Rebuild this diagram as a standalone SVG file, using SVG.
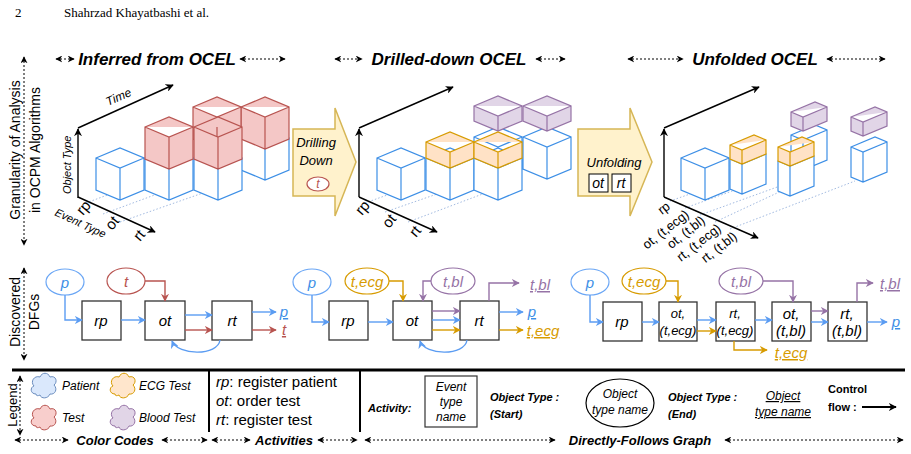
<svg xmlns="http://www.w3.org/2000/svg" width="911" height="454" viewBox="0 0 911 454">
<style>
text{font-family:"Liberation Sans",Arial,sans-serif;fill:#000}
.hd{font-family:"Liberation Serif",serif;font-size:13px}
.ti{font-size:17px;font-weight:bold;font-style:italic}
.it{font-style:italic}
.bi{font-weight:bold;font-style:italic}
.dash{stroke:#000;stroke-width:1;stroke-dasharray:2 2;fill:none;marker-start:url(#oa);marker-end:url(#oa)}
.ax{stroke:#000;stroke-width:1.4;fill:none;marker-end:url(#mk)}
.bl{fill:#fff;stroke:#3d8fe6;stroke-width:1.2}
.rd{fill:#f4c7c6;stroke:#b85450;stroke-width:1.2}
.or{fill:#ffe2c6;stroke:#d79b00;stroke-width:1.2}
.pu{fill:#e1d5e7;stroke:#9673a6;stroke-width:1.2}
.dot{stroke:#8aa8d8;stroke-width:0.8;stroke-dasharray:1.5 2;fill:none}
.box{fill:#fff;stroke:#333;stroke-width:1.3}
.eb{fill:#fff;stroke:#6aa6f5;stroke-width:1.2}
.er{fill:#fff;stroke:#b85450;stroke-width:1.2}
.eo{fill:#fff;stroke:#d79b00;stroke-width:1.2}
.ep{fill:#fff;stroke:#9673a6;stroke-width:1.2}
.cb{stroke:#5b9cf2;stroke-width:1.4;fill:none;marker-end:url(#mb)}
.cr{stroke:#b85450;stroke-width:1.4;fill:none;marker-end:url(#mr)}
.co{stroke:#d79b00;stroke-width:1.4;fill:none;marker-end:url(#mo)}
.cp{stroke:#9673a6;stroke-width:1.4;fill:none;marker-end:url(#mp)}
.n{font-size:15px;font-style:italic;text-anchor:middle}
.n2{font-size:13px;font-style:italic;text-anchor:middle}
.tb{fill:#3d8fe6}.tr{fill:#b85450}.to{fill:#d79b00}.tp{fill:#9673a6}
</style>
<defs>
<marker id="mk" viewBox="0 0 10 10" refX="9" refY="5" markerWidth="8" markerHeight="8" markerUnits="userSpaceOnUse" orient="auto"><path d="M0 0L10 5L0 10L3 5z" fill="#000"/></marker>
<marker id="mb" viewBox="0 0 10 10" refX="9" refY="5" markerWidth="8" markerHeight="8" markerUnits="userSpaceOnUse" orient="auto"><path d="M0 0L10 5L0 10L3 5z" fill="#5b9cf2"/></marker>
<marker id="mr" viewBox="0 0 10 10" refX="9" refY="5" markerWidth="8" markerHeight="8" markerUnits="userSpaceOnUse" orient="auto"><path d="M0 0L10 5L0 10L3 5z" fill="#b85450"/></marker>
<marker id="mo" viewBox="0 0 10 10" refX="9" refY="5" markerWidth="8" markerHeight="8" markerUnits="userSpaceOnUse" orient="auto"><path d="M0 0L10 5L0 10L3 5z" fill="#d79b00"/></marker>
<marker id="mp" viewBox="0 0 10 10" refX="9" refY="5" markerWidth="8" markerHeight="8" markerUnits="userSpaceOnUse" orient="auto"><path d="M0 0L10 5L0 10L3 5z" fill="#9673a6"/></marker>
<marker id="oa" viewBox="0 0 10 10" refX="9" refY="5" markerWidth="7" markerHeight="7" markerUnits="userSpaceOnUse" orient="auto-start-reverse"><path d="M0 0L10 5L0 10L3 5z" fill="#000"/></marker>
<path id="cube" d="M-24-10L0-20L24-10V22L0 32L-24 22Z M-24-10L0 0L24-10 M0 0V32"/>
<path id="slab" d="M-24-10L0-20L24-10V6L0 16L-24 6Z M-24-10L0 0L24-10 M0 0V16"/>
<path id="slabp" d="M-24-10L0-20L24-10V5L0 15L-24 5Z M-24-10L0 0L24-10 M0 0V15"/>
<path id="nc" d="M-12-5L12-15L24-10V20L0 30L-12 25Z M-12-5L0 0L24-10 M0 0V30"/>
<path id="ns" d="M-12-5L12-15L24-10V4L0 14L-12 9Z M-12-5L0 0L24-10 M0 0V14"/>
<path id="cloud" d="M-8 8C-14 8-14 1-10 0C-14-4-10-11-4-9C-2-14 4-14 6-9C12-11 14-4 10-1C14 3 11 9 6 8C4 13-3 13-4 9C-6 10-8 10-8 8Z"/>
</defs>

<text class="hd" x="15" y="17">2</text>
<text class="hd" x="64" y="17">Shahrzad Khayatbashi et al.</text>

<g id="titles">
<line class="dash" x1="56" y1="59" x2="74" y2="59"/><line class="dash" x1="240" y1="59" x2="285" y2="59"/>
<text class="ti" x="157" y="65" text-anchor="middle">Inferred from OCEL</text>
<line class="dash" x1="335" y1="59" x2="362" y2="59"/><line class="dash" x1="536" y1="59" x2="565" y2="59"/>
<text class="ti" x="449" y="65" text-anchor="middle">Drilled-down OCEL</text>
<line class="dash" x1="628" y1="59" x2="683" y2="59"/><line class="dash" x1="827" y1="59" x2="885" y2="59"/>
<text class="ti" x="755" y="65" text-anchor="middle">Unfolded OCEL</text>
<line class="dash" x1="24" y1="57" x2="24" y2="245"/>
<text font-size="14" transform="translate(20 150) rotate(-90)" text-anchor="middle">Granularity of Analysis</text>
<text font-size="14" transform="translate(40 150) rotate(-90)" text-anchor="middle">in OCPM Algorithms</text>
<line class="dash" x1="24" y1="268" x2="24" y2="360"/>
<text font-size="14" transform="translate(20 312) rotate(-90)" text-anchor="middle">Discovered</text>
<text font-size="14" transform="translate(39 312) rotate(-90)" text-anchor="middle">DFGs</text>
</g>

<g id="panel1">
<line class="dot" x1="86" y1="203" x2="110" y2="194"/>
<line class="dot" x1="103" y1="214" x2="160" y2="193"/>
<line class="dot" x1="120" y1="222" x2="240" y2="180"/>
<use href="#cube" class="bl" x="265" y="148"/>
<use href="#cube" class="rd" x="265" y="117"/>
<use href="#cube" class="rd" x="217" y="117"/>
<use href="#cube" class="bl" x="120" y="168"/>
<use href="#cube" class="bl" x="169" y="168"/>
<use href="#cube" class="rd" x="169" y="137"/>
<use href="#cube" class="bl" x="218" y="168"/>
<use href="#cube" class="rd" x="218" y="137"/>
<path class="ax" d="M78 198V129"/>
<path class="ax" d="M78 128L173 85"/>
<path class="ax" d="M78 197L155 232"/>
<text font-size="12" class="it" transform="translate(108 106) rotate(-24)">Time</text>
<text font-size="11" class="it" transform="translate(71 194) rotate(-90)">Object Type</text>
<text font-size="11" class="it" transform="translate(54 215) rotate(25)">Event Type</text>
<text font-size="15" transform="translate(83 216) rotate(-50)">rp</text>
<text font-size="15" transform="translate(112 231) rotate(-50)">ot</text>
<text font-size="15" transform="translate(140 242) rotate(-50)">rt</text>
</g>

<g id="drill">
<path d="M293 129H335V108L356 162L335 216V196H293Z" fill="#fff2cc" stroke="#d6b656" stroke-width="1.5"/>
<text class="it" font-size="13" x="316" y="147" text-anchor="middle">Drilling</text>
<text class="it" font-size="13" x="316" y="165" text-anchor="middle">Down</text>
<ellipse cx="318" cy="184" rx="11" ry="7" class="er"/>
<text class="it tr" font-size="12" x="318" y="188" text-anchor="middle">t</text>
</g>

<g id="panel2">
<line class="dot" x1="365" y1="203" x2="390" y2="194"/>
<line class="dot" x1="385" y1="212" x2="440" y2="193"/>
<line class="dot" x1="408" y1="222" x2="520" y2="180"/>
<use href="#cube" class="bl" x="547" y="147"/>
<use href="#cube" class="bl" x="498" y="147"/>
<use href="#slabp" class="pu" x="498" y="116"/>
<use href="#slabp" class="pu" x="547" y="116"/>
<use href="#cube" class="bl" x="401" y="168"/>
<use href="#cube" class="bl" x="450" y="168"/>
<use href="#slab" class="or" x="450" y="152"/>
<use href="#cube" class="bl" x="498" y="168"/>
<use href="#slab" class="or" x="498" y="152"/>
<path class="ax" d="M359 197V129"/>
<path class="ax" d="M359 128L453 87"/>
<path class="ax" d="M359 197L437 232"/>
<text font-size="15" transform="translate(362 216) rotate(-50)">rp</text>
<text font-size="15" transform="translate(389 229) rotate(-50)">ot</text>
<text font-size="15" transform="translate(416 238) rotate(-50)">rt</text>
</g>

<g id="unfold">
<path d="M578 129H630V108L652 162L630 216V196H578Z" fill="#fff2cc" stroke="#d6b656" stroke-width="1.5"/>
<text class="it" font-size="13" x="614" y="167" text-anchor="middle">Unfolding</text>
<rect x="589" y="174" width="19" height="18" fill="#fff" stroke="#000"/>
<text class="it" font-size="14" x="598" y="188" text-anchor="middle">ot</text>
<rect x="612" y="174" width="19" height="18" fill="#fff" stroke="#000"/>
<text class="it" font-size="14" x="621" y="188" text-anchor="middle">rt</text>
</g>

<g id="panel3">
<line class="dot" x1="670" y1="201" x2="690" y2="194"/>
<line class="dot" x1="685" y1="208" x2="735" y2="190"/>
<line class="dot" x1="700" y1="215" x2="780" y2="186"/>
<line class="dot" x1="715" y1="222" x2="805" y2="180"/>
<line class="dot" x1="730" y1="229" x2="855" y2="181"/>
<use href="#cube" class="bl" x="705" y="168"/>
<use href="#nc" class="bl" x="742" y="164"/>
<use href="#ns" class="or" x="742" y="150"/>
<use href="#nc" class="bl" x="803" y="140"/>
<use href="#ns" class="pu" x="803" y="117"/>
<use href="#nc" class="bl" x="790" y="166"/>
<use href="#ns" class="or" x="790" y="152"/>
<use href="#nc" class="bl" x="863" y="152"/>
<use href="#ns" class="pu" x="863" y="122"/>
<path class="ax" d="M664 197V129"/>
<path class="ax" d="M664 128L759 87"/>
<path class="ax" d="M664 197L758 238"/>
<g font-size="13">
<text transform="translate(671 208) rotate(-38)" text-anchor="end">rp</text>
<text transform="translate(690 216) rotate(-38)" text-anchor="end">ot, (t,ecg)</text>
<text transform="translate(706 222) rotate(-38)" text-anchor="end">ot, (t,bl)</text>
<text transform="translate(722 230) rotate(-38)" text-anchor="end">rt, (t,ecg)</text>
<text transform="translate(738 238) rotate(-38)" text-anchor="end">rt, (t,bl)</text>
</g>
</g>

<g id="dfg1">
<ellipse cx="65" cy="282" rx="19" ry="13" class="eb"/><text class="n tb" x="65" y="288">p</text>
<ellipse cx="126" cy="281" rx="19" ry="13" class="er"/><text class="n tr" x="126" y="287">t</text>
<rect class="box" x="82" y="301" width="39" height="39"/><text class="n" x="101" y="326">rp</text>
<rect class="box" x="145" y="301" width="40" height="39"/><text class="n" x="165" y="326">ot</text>
<rect class="box" x="212" y="301" width="40" height="39"/><text class="n" x="232" y="326">rt</text>
<text class="n tb" x="284" y="317" text-decoration="underline">p</text>
<text class="n tr" x="284" y="335" text-decoration="underline">t</text>
</g>
<g id="dfg2">
<ellipse cx="312" cy="282" rx="19" ry="13" class="eb"/><text class="n tb" x="312" y="288">p</text>
<ellipse cx="367" cy="281" rx="22" ry="13" class="eo"/><text class="n to" x="367" y="287">t,ecg</text>
<ellipse cx="453" cy="281" rx="22" ry="13" class="ep"/><text class="n tp" x="453" y="287">t,bl</text>
<rect class="box" x="329" y="301" width="39" height="39"/><text class="n" x="348" y="326">rp</text>
<rect class="box" x="393" y="301" width="39" height="39"/><text class="n" x="412" y="326">ot</text>
<rect class="box" x="460" y="301" width="39" height="39"/><text class="n" x="479" y="326">rt</text>
<text class="n tp" x="540" y="290" text-decoration="underline">t,bl</text>
<text class="n tb" x="532" y="317" text-decoration="underline">p</text>
<text class="n to" x="543" y="336" text-decoration="underline">t,ecg</text>
</g>
<g id="dfg3">
<ellipse cx="590" cy="282" rx="19" ry="13" class="eb"/><text class="n tb" x="590" y="288">p</text>
<ellipse cx="644" cy="281" rx="22" ry="13" class="eo"/><text class="n to" x="644" y="287">t,ecg</text>
<ellipse cx="741" cy="281" rx="22" ry="13" class="ep"/><text class="n tp" x="741" y="287">t,bl</text>
<rect class="box" x="603" y="302" width="39" height="39"/><text class="n" x="622" y="327">rp</text>
<rect class="box" x="659" y="302" width="38" height="39"/><text class="n2" x="678" y="318">ot,</text><text class="n2" x="678" y="335">(t,ecg)</text>
<rect class="box" x="716" y="302" width="39" height="39"/><text class="n2" x="735" y="318">rt,</text><text class="n2" x="735" y="335">(t,ecg)</text>
<rect class="box" x="772" y="302" width="39" height="39"/><text class="n" x="791" y="319">ot,</text><text class="n" x="791" y="336">(t,bl)</text>
<rect class="box" x="828" y="302" width="39" height="39"/><text class="n" x="847" y="319">rt,</text><text class="n" x="847" y="336">(t,bl)</text>
<text class="n to" x="791" y="358" text-decoration="underline">t,ecg</text>
<text class="n tp" x="890" y="289" text-decoration="underline">t,bl</text>
<text class="n tb" x="896" y="327" text-decoration="underline">p</text>
</g>

<g id="connectors">
<path class="cb" d="M65 295V320H82"/>
<path class="cb" d="M121 320H145"/>
<path class="cr" d="M145 281H165V301"/>
<path class="cb" d="M185 315H212"/>
<path class="cr" d="M185 330H212"/>
<path class="cb" d="M252 312H276"/>
<path class="cr" d="M252 330H276"/>
<path class="cb" d="M220 340C218 356 178 356 172 341"/>

<path class="cb" d="M312 295V322H329"/>
<path class="cb" d="M368 322H393"/>
<path class="co" d="M389 281H403V301"/>
<path class="cp" d="M431 281H423V301"/>
<path class="cp" d="M432 311H460"/>
<path class="cb" d="M432 320H460"/>
<path class="co" d="M432 330H460"/>
<path class="cp" d="M489 301V283H519"/>
<path class="cb" d="M499 312H523"/>
<path class="co" d="M499 330H523"/>
<path class="cb" d="M467 340C465 356 425 356 420 341"/>

<path class="cb" d="M590 295V322H603"/>
<path class="cb" d="M642 322H659"/>
<path class="co" d="M666 281H678V302"/>
<path class="cb" d="M697 320H716"/>
<path class="co" d="M697 331H716"/>
<path class="co" d="M734 341V350H767"/>
<path class="cb" d="M755 320H772"/>
<path class="cp" d="M763 281H793V302"/>
<path class="cp" d="M811 311H828"/>
<path class="cb" d="M811 322H828"/>
<path class="cp" d="M857 302V283H873"/>
<path class="cb" d="M867 322H887"/>
</g>

<g id="legend">
<line x1="12" y1="370" x2="905" y2="370" stroke="#000" stroke-width="3"/>
<line x1="209" y1="371" x2="209" y2="432" stroke="#000" stroke-width="2"/>
<line x1="360" y1="371" x2="360" y2="432" stroke="#000" stroke-width="2"/>
<line class="dash" x1="20" y1="376" x2="20" y2="435"/>
<text font-size="13" transform="translate(17 405) rotate(-90)" text-anchor="middle">Legend</text>
<use href="#cloud" x="44" y="386" fill="#dae8fc" stroke="#6c8ebf"/>
<use href="#cloud" x="44" y="418" fill="#f8cecc" stroke="#b85450"/>
<use href="#cloud" x="123" y="386" fill="#ffe6cc" stroke="#d79b00"/>
<use href="#cloud" x="123" y="418" fill="#e1d5e7" stroke="#9673a6"/>
<text class="it" font-size="12" x="62" y="390">Patient</text>
<text class="it" font-size="12" x="62" y="422">Test</text>
<text class="it" font-size="12" x="139" y="390">ECG Test</text>
<text class="it" font-size="12" x="139" y="422">Blood Test</text>
<text font-size="15" x="216" y="387"><tspan font-style="italic">rp</tspan>: register patient</text>
<text font-size="15" x="216" y="406"><tspan font-style="italic">ot</tspan>: order test</text>
<text font-size="15" x="216" y="425"><tspan font-style="italic">rt</tspan>: register test</text>
<text class="bi" font-size="11" x="368" y="412">Activity:</text>
<rect x="425" y="376" width="52" height="51" fill="#fff" stroke="#333" stroke-width="1.2"/>
<text class="it" font-size="12" x="451" y="391" text-anchor="middle">Event</text>
<text class="it" font-size="12" x="451" y="406" text-anchor="middle">type</text>
<text class="it" font-size="12" x="451" y="421" text-anchor="middle">name</text>
<text class="bi" font-size="11" x="490" y="401">Object  Type :</text>
<text class="bi" font-size="11" x="490" y="418">(Start)</text>
<ellipse cx="620" cy="403" rx="34" ry="24" fill="#fff" stroke="#000" stroke-width="1.2"/>
<text class="it" font-size="12" x="620" y="398" text-anchor="middle">Object</text>
<text class="it" font-size="12" x="620" y="414" text-anchor="middle">type name</text>
<text class="bi" font-size="11" x="668" y="401">Object  Type :</text>
<text class="bi" font-size="11" x="668" y="418">(End)</text>
<text class="it" font-size="12" x="783" y="400" text-decoration="underline" text-anchor="middle">Object</text>
<text class="it" font-size="12" x="783" y="416" text-decoration="underline" text-anchor="middle">type name</text>
<text font-size="11" font-weight="bold" x="828" y="393">Control</text>
<text font-size="11" font-weight="bold" x="828" y="411">flow :</text>
<path d="M862 407H896" stroke="#000" stroke-width="2" marker-end="url(#mk)"/>
<line class="dash" x1="15" y1="440" x2="68" y2="440"/><line class="dash" x1="162" y1="440" x2="207" y2="440"/>
<text class="bi" font-size="13" x="115" y="445" text-anchor="middle">Color Codes</text>
<line class="dash" x1="212" y1="440" x2="250" y2="440"/><line class="dash" x1="318" y1="440" x2="357" y2="440"/>
<text class="bi" font-size="13" x="284" y="445" text-anchor="middle">Activities</text>
<line class="dash" x1="365" y1="440" x2="555" y2="440"/><line class="dash" x1="725" y1="440" x2="903" y2="440"/>
<text class="bi" font-size="13" x="640" y="445" text-anchor="middle">Directly-Follows Graph</text>
</g>
</svg>
